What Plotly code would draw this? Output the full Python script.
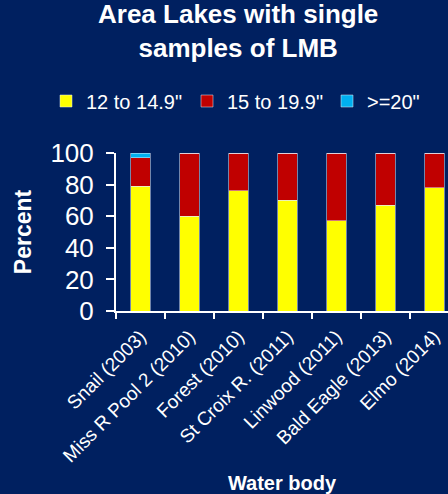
import plotly.graph_objs as go

# Lakes sampled (single sample each)
lakes = ['Snail (2003)', 'Miss R Pool 2 (2010)', 'Forest (2010)', 'St Croix R. (2011)',
         'Linwood (2011)', 'Bald Eagle (2013)', 'Elmo (2014)']

# Percent of LMB in each length class
pct_12_15 = [79, 60, 76, 70, 57, 67, 78]
pct_15_20 = [18, 40, 24, 30, 43, 33, 22]
pct_20_up = [3, 0, 0, 0, 0, 0, 0]

font = 'Liberation Sans, Arial, sans-serif'
navy = '#002060'

trace1 = go.Bar(x=lakes, y=pct_12_15, name='12 to 14.9"', marker={'color': '#FFFF00'},
                legend='legend', showlegend=True)
trace2 = go.Bar(x=lakes, y=pct_15_20, name='15 to 19.9"', marker={'color': '#C00000'},
                legend='legend2', showlegend=True)
trace3 = go.Bar(x=lakes, y=pct_20_up, name='>=20"', marker={'color': '#00B0F0'},
                legend='legend3', showlegend=True)
data = [trace1, trace2, trace3]


# one legend per item so each entry sits where the original has it
def legend_at(px):
    return dict(orientation='h', x=px / 448, xanchor='left', xref='container',
                y=1 - 101 / 494, yanchor='middle', yref='container',
                font=dict(size=20, color='white'), itemwidth=30, visible=True,
                bgcolor='rgba(0,0,0,0)')


layout = go.Layout(
    width=448, height=494, showlegend=True,
    paper_bgcolor=navy, plot_bgcolor=navy,
    font=dict(family=font, color='white'),
    margin=dict(l=116, r=0, t=153, b=183),
    barmode='stack', bargap=0.6,
    legend=legend_at(46), legend2=legend_at(187), legend3=legend_at(327),
    xaxis=dict(range=[-0.5, 6.28], tickangle=-45, tickfont=dict(size=19, color='white'),
               ticklabelstandoff=5,
               showline=True, linecolor='white', linewidth=2,
               ticks='outside', tickson='boundaries', ticklen=6, tickwidth=2, tickcolor='white',
               showgrid=False, automargin=False,
               title=dict(text='<b>Water body</b>', font=dict(size=20, color='white'), standoff=12)),
    yaxis=dict(range=[0, 100], dtick=20, tickfont=dict(size=26, color='white'),
               ticklabelstandoff=7,
               showline=True, linecolor='white', linewidth=2,
               ticks='outside', ticklen=8, tickwidth=2, tickcolor='white',
               showgrid=False, zeroline=False, automargin=False,
               title=dict(text='<b>Percent</b>', font=dict(size=23, color='white'), standoff=12)),
    annotations=[dict(text='<b>Area Lakes with single<br>samples of LMB</b>',
                      x=(238 - 116) / 332, y=(311 - 31) / 158, xref='paper', yref='paper',
                      xanchor='center', yanchor='middle', showarrow=False,
                      font=dict(size=26, color='white', family=font))],
)

fig = go.Figure(data=data, layout=layout)
fig.write_html('out.html', config={'displayModeBar': False},
               post_script="document.body.style.margin='0';")
